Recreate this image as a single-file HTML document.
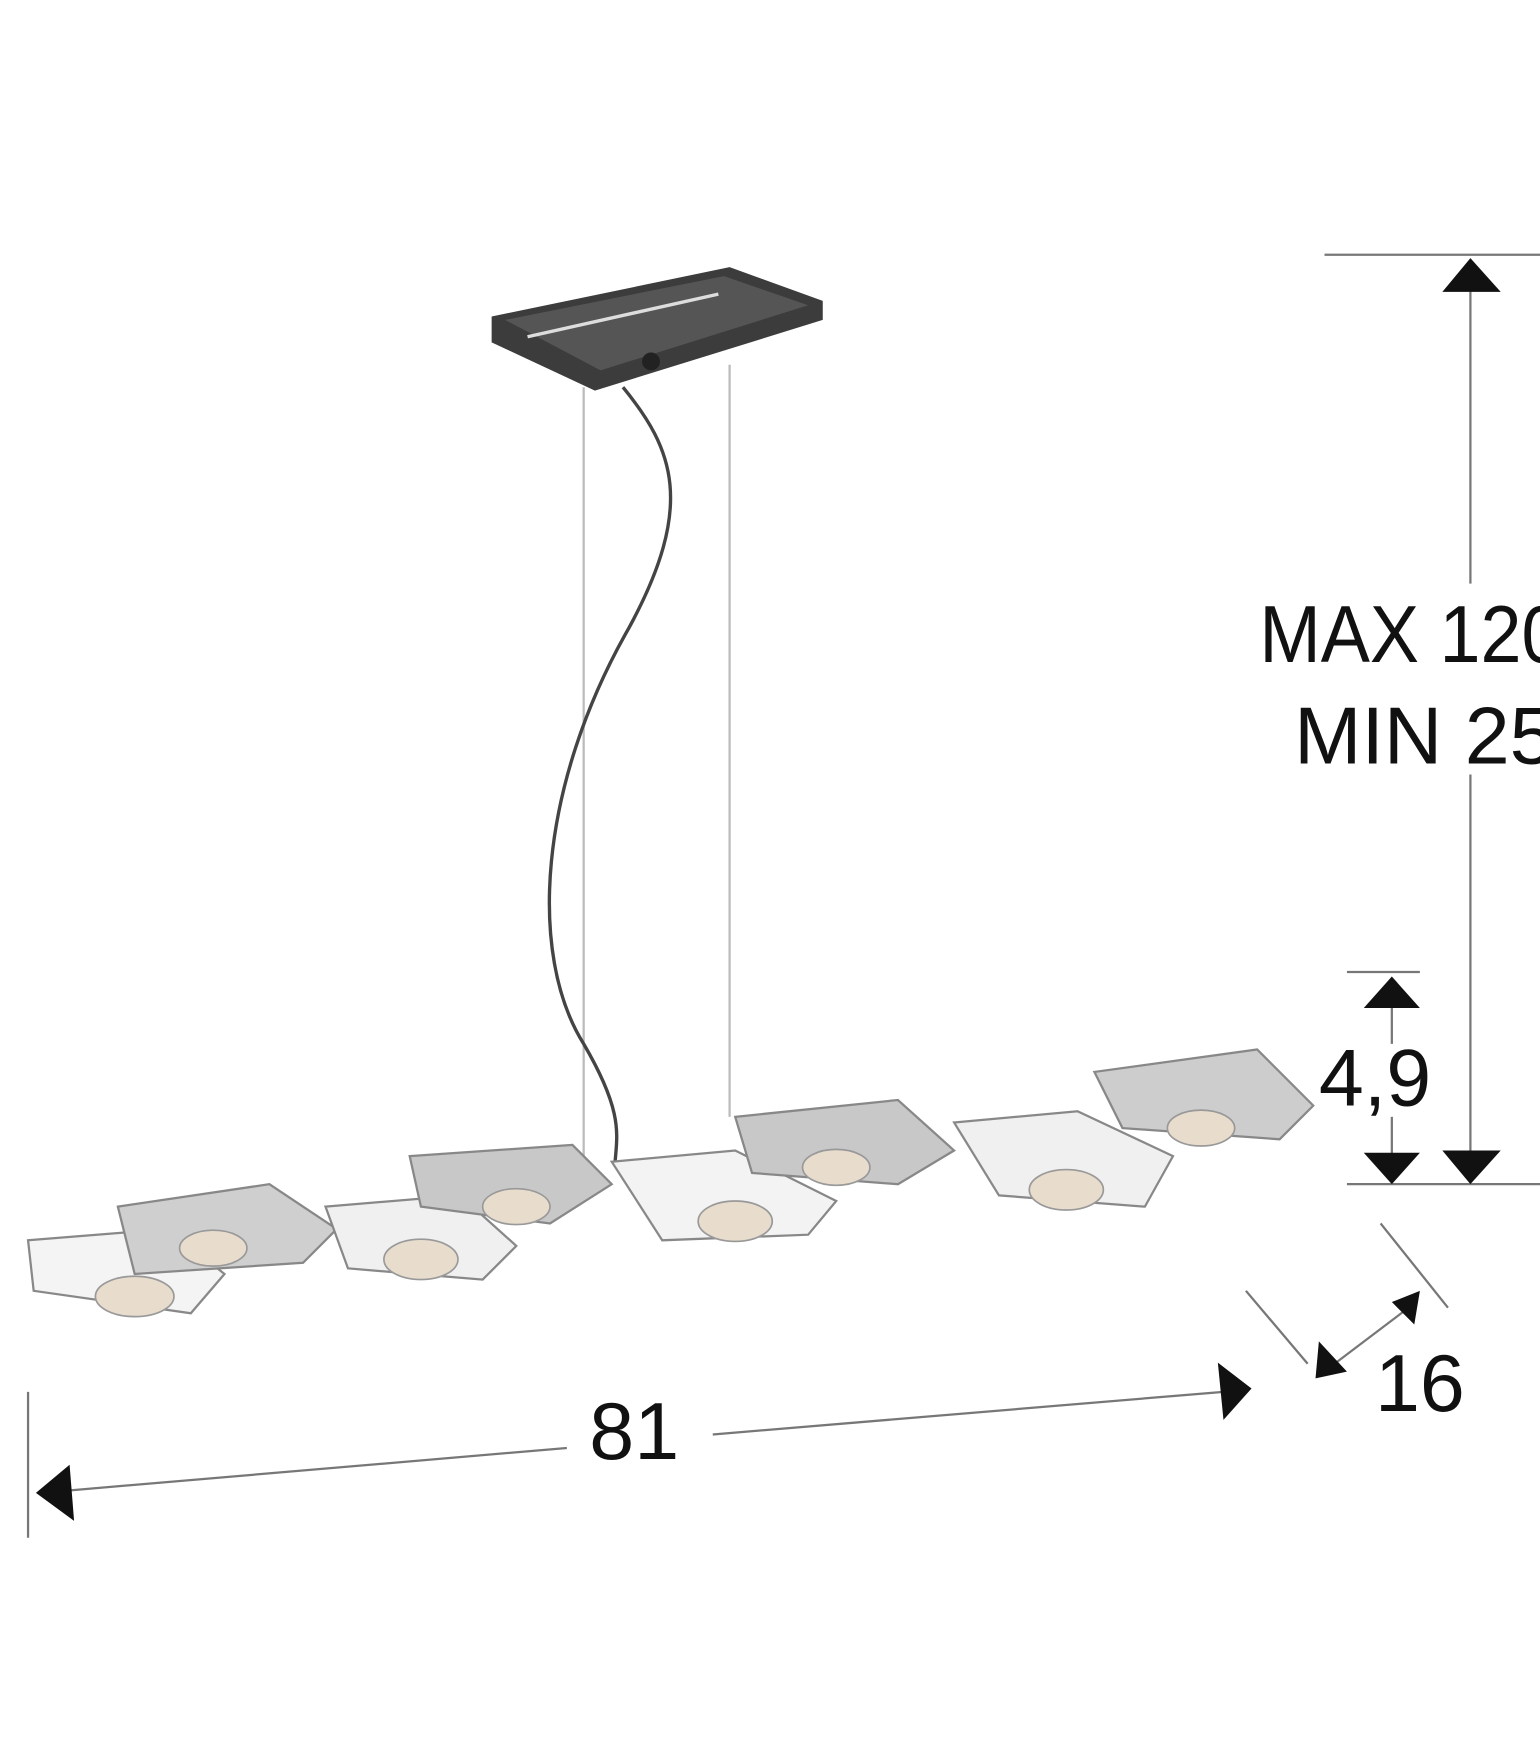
<!DOCTYPE html>
<html><head><meta charset="utf-8"><style>
html,body{margin:0;padding:0;background:#fff;}
svg{display:block}
</style></head><body>
<svg width="1540" height="1760" viewBox="0 0 1372 1568" xmlns="http://www.w3.org/2000/svg">
<rect width="1372" height="1568" fill="#fff"/>
<!-- ceiling plate -->
<polygon points="438,282 650,238 733,268 733,285 530,348 438,305" fill="#3c3c3c"/>
<polygon points="450,285 645,246 720,272 535,330" fill="#555"/>
<line x1="470" y1="300" x2="640" y2="262" stroke="#ddd" stroke-width="3"/>
<circle cx="580" cy="322" r="8" fill="#222"/>
<!-- wires -->
<line x1="520" y1="345" x2="520" y2="1035" stroke="#bbb" stroke-width="2"/>
<line x1="650" y1="325" x2="650" y2="995" stroke="#bbb" stroke-width="2"/>
<path d="M555,345 C600,400 620,450 560,560 C480,700 470,850 520,930 C555,990 550,1010 548,1035" fill="none" stroke="#444" stroke-width="3"/>
<!-- lamp modules -->
<g stroke="#888" stroke-width="2">
<polygon points="25,1105 150,1095 200,1135 170,1170 30,1150" fill="#f4f4f4"/>
<polygon points="105,1075 240,1055 300,1095 270,1125 120,1135" fill="#cfcfcf"/>
<polygon points="290,1075 410,1065 460,1110 430,1140 310,1130" fill="#f0f0f0"/>
<polygon points="365,1030 510,1020 545,1055 490,1090 375,1075" fill="#c8c8c8"/>
<polygon points="545,1035 655,1025 745,1070 720,1100 590,1105" fill="#f3f3f3"/>
<polygon points="655,995 800,980 850,1025 800,1055 670,1045" fill="#c8c8c8"/>
<polygon points="850,1000 960,990 1045,1030 1020,1075 890,1065" fill="#f0f0f0"/>
<polygon points="975,955 1120,935 1170,985 1140,1015 1000,1005" fill="#cdcdcd"/>
</g>
<g fill="#e8dccd" stroke="#999" stroke-width="1.5">
<ellipse cx="120" cy="1155" rx="35" ry="18"/>
<ellipse cx="190" cy="1112" rx="30" ry="16"/>
<ellipse cx="375" cy="1122" rx="33" ry="18"/>
<ellipse cx="460" cy="1075" rx="30" ry="16"/>
<ellipse cx="655" cy="1088" rx="33" ry="18"/>
<ellipse cx="745" cy="1040" rx="30" ry="16"/>
<ellipse cx="950" cy="1060" rx="33" ry="18"/>
<ellipse cx="1070" cy="1005" rx="30" ry="16"/>
</g>
<!-- right height dim -->
<g stroke="#777" stroke-width="2">
<line x1="1180" y1="227" x2="1372" y2="227"/>
<line x1="1310" y1="250" x2="1310" y2="520"/>
<line x1="1310" y1="690" x2="1310" y2="1040"/>
<line x1="1200" y1="1055" x2="1372" y2="1055"/>
<line x1="1200" y1="866" x2="1265" y2="866"/>
<line x1="1240" y1="880" x2="1240" y2="930"/>
<line x1="1240" y1="995" x2="1240" y2="1040"/>
<line x1="25" y1="1240" x2="25" y2="1370"/>
<line x1="60" y1="1328" x2="505" y2="1290"/>
<line x1="635" y1="1278" x2="1090" y2="1240"/>
<line x1="1110" y1="1150" x2="1165" y2="1215"/>
<line x1="1230" y1="1090" x2="1290" y2="1165"/>
<line x1="1185" y1="1218" x2="1255" y2="1165"/>
</g>
<g fill="#111">
<polygon points="1310,230 1285,260 1337,260"/>
<polygon points="1310,1055 1285,1025 1337,1025"/>
<polygon points="1240,870 1215,898 1265,898"/>
<polygon points="1240,1055 1215,1027 1265,1027"/>
<polygon points="32,1330 62,1305 66,1355"/>
<polygon points="1115,1237 1085,1214 1090,1265"/>
<polygon points="1172,1228 1175,1195 1200,1222"/>
<polygon points="1265,1150 1240,1160 1260,1180"/>
</g>
<g font-family="Liberation Sans, sans-serif" fill="#111" font-size="72">
<text x="1122" y="590" textLength="270" lengthAdjust="spacingAndGlyphs">MAX 120</text>
<text x="1153" y="680">MIN 25</text>
<text x="1175" y="985">4,9</text>
<text x="1225" y="1257">16</text>
<text x="525" y="1300">81</text>
</g>
</svg>
</body></html>
